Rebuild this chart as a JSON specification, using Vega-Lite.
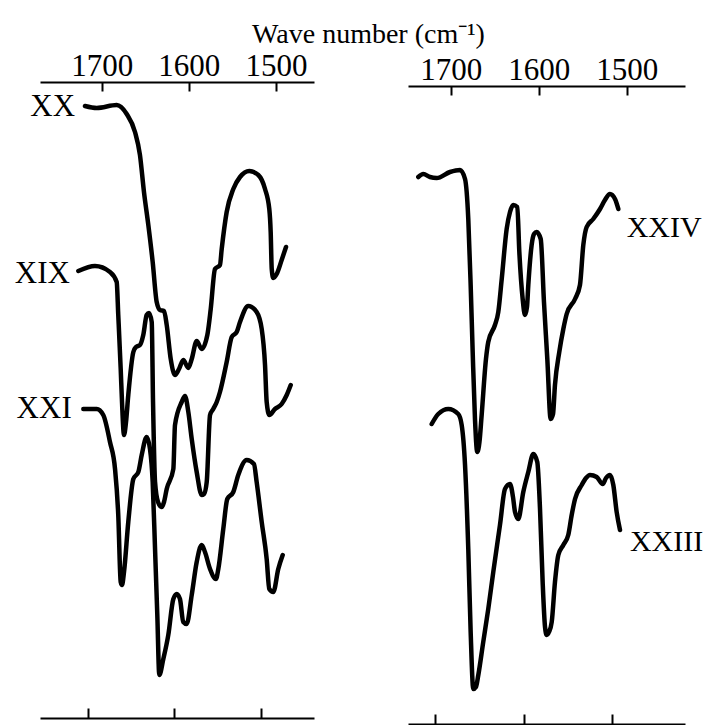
{
  "$schema": "https://vega.github.io/schema/vega-lite/v6.json",
  "background": "white",
  "padding": {"left": 14, "top": 20, "right": 0, "bottom": 0},
  "autosize": {"type": "pad"},
  "bounds": "flush",
  "spacing": 94,
  "config": {"view": {"stroke": null}, "font": "Liberation Serif"},
  "datasets": {
    "left": [
      {"s":"XX","wn":1719.2,"t":612},{"s":"XX","wn":1705.7,"t":610},{"s":"XX","wn":1682.8,"t":613},{"s":"XX","wn":1671.3,"t":604},
      {"s":"XX","wn":1661.8,"t":586},{"s":"XX","wn":1656.1,"t":563},{"s":"XX","wn":1651.5,"t":526},{"s":"XX","wn":1646.5,"t":493},
      {"s":"XX","wn":1641.5,"t":456},{"s":"XX","wn":1636.9,"t":416},{"s":"XX","wn":1633.1,"t":408},{"s":"XX","wn":1628.5,"t":407},
      {"s":"XX","wn":1625.4,"t":393},{"s":"XX","wn":1620.8,"t":359},{"s":"XX","wn":1615.9,"t":343},{"s":"XX","wn":1611.3,"t":349},
      {"s":"XX","wn":1606.4,"t":358},{"s":"XX","wn":1600.6,"t":350},{"s":"XX","wn":1596.7,"t":359},{"s":"XX","wn":1591.0,"t":377},
      {"s":"XX","wn":1585.3,"t":369},{"s":"XX","wn":1578.8,"t":383},{"s":"XX","wn":1574.9,"t":409},{"s":"XX","wn":1570.0,"t":449},
      {"s":"XX","wn":1564.3,"t":453},{"s":"XX","wn":1562.3,"t":469},{"s":"XX","wn":1556.6,"t":506},{"s":"XX","wn":1549.0,"t":529},
      {"s":"XX","wn":1541.3,"t":541},{"s":"XX","wn":1530.6,"t":547},{"s":"XX","wn":1520.3,"t":543},{"s":"XX","wn":1512.6,"t":529},
      {"s":"XX","wn":1507.7,"t":509},{"s":"XX","wn":1506.1,"t":486},{"s":"XX","wn":1504.9,"t":449},{"s":"XX","wn":1503.1,"t":440},
      {"s":"XX","wn":1499.2,"t":444},{"s":"XX","wn":1493.5,"t":458},{"s":"XX","wn":1488.5,"t":471},

      {"s":"XIX","wn":1726.8,"t":447},{"s":"XIX","wn":1707.7,"t":452},{"s":"XIX","wn":1690.5,"t":446},{"s":"XIX","wn":1682.8,"t":436},
      {"s":"XIX","wn":1681.0,"t":403},{"s":"XIX","wn":1678.2,"t":349},{"s":"XIX","wn":1676.7,"t":316},{"s":"XIX","wn":1674.4,"t":283},
      {"s":"XIX","wn":1672.1,"t":296},{"s":"XIX","wn":1669.5,"t":323},{"s":"XIX","wn":1663.7,"t":366},{"s":"XIX","wn":1660.6,"t":371},
      {"s":"XIX","wn":1656.1,"t":373},{"s":"XIX","wn":1652.3,"t":383},{"s":"XIX","wn":1648.4,"t":403},{"s":"XIX","wn":1645.7,"t":405},
      {"s":"XIX","wn":1642.6,"t":396},{"s":"XIX","wn":1641.1,"t":316},{"s":"XIX","wn":1638.8,"t":236},{"s":"XIX","wn":1635.4,"t":216},
      {"s":"XIX","wn":1631.2,"t":211},{"s":"XIX","wn":1628.5,"t":216},{"s":"XIX","wn":1625.4,"t":229},{"s":"XIX","wn":1617.8,"t":249},
      {"s":"XIX","wn":1615.9,"t":293},{"s":"XIX","wn":1608.2,"t":316},{"s":"XIX","wn":1604.4,"t":322},{"s":"XIX","wn":1600.6,"t":306},
      {"s":"XIX","wn":1596.7,"t":279},{"s":"XIX","wn":1591.0,"t":246},{"s":"XIX","wn":1585.3,"t":223},{"s":"XIX","wn":1582.6,"t":224},
      {"s":"XIX","wn":1579.5,"t":236},{"s":"XIX","wn":1575.7,"t":303},{"s":"XIX","wn":1572.0,"t":309},{"s":"XIX","wn":1568.0,"t":316},
      {"s":"XIX","wn":1564.3,"t":326},{"s":"XIX","wn":1556.6,"t":356},{"s":"XIX","wn":1550.8,"t":381},{"s":"XIX","wn":1545.1,"t":386},
      {"s":"XIX","wn":1541.3,"t":396},{"s":"XIX","wn":1531.8,"t":412},{"s":"XIX","wn":1522.2,"t":406},{"s":"XIX","wn":1516.4,"t":389},
      {"s":"XIX","wn":1512.6,"t":353},{"s":"XIX","wn":1510.7,"t":316},{"s":"XIX","wn":1507.7,"t":303},{"s":"XIX","wn":1501.2,"t":309},
      {"s":"XIX","wn":1493.5,"t":314},{"s":"XIX","wn":1487.7,"t":323},{"s":"XIX","wn":1483.1,"t":333},

      {"s":"XXI","wn":1721.1,"t":309},{"s":"XXI","wn":1705.7,"t":309},{"s":"XXI","wn":1698.2,"t":303},{"s":"XXI","wn":1690.5,"t":276},
      {"s":"XXI","wn":1684.7,"t":249},{"s":"XXI","wn":1681.0,"t":203},{"s":"XXI","wn":1678.2,"t":136},{"s":"XXI","wn":1676.7,"t":133},
      {"s":"XXI","wn":1674.4,"t":146},{"s":"XXI","wn":1669.5,"t":196},{"s":"XXI","wn":1663.7,"t":239},{"s":"XXI","wn":1658.0,"t":246},
      {"s":"XXI","wn":1654.1,"t":263},{"s":"XXI","wn":1648.4,"t":281},{"s":"XXI","wn":1644.6,"t":269},{"s":"XXI","wn":1641.5,"t":236},
      {"s":"XXI","wn":1638.8,"t":169},{"s":"XXI","wn":1636.2,"t":103},{"s":"XXI","wn":1633.9,"t":43},{"s":"XXI","wn":1629.3,"t":59},
      {"s":"XXI","wn":1623.6,"t":83},{"s":"XXI","wn":1617.8,"t":119},{"s":"XXI","wn":1613.9,"t":124},{"s":"XXI","wn":1610.2,"t":119},
      {"s":"XXI","wn":1606.4,"t":96},{"s":"XXI","wn":1602.5,"t":94},{"s":"XXI","wn":1596.7,"t":123},{"s":"XXI","wn":1591.0,"t":156},
      {"s":"XXI","wn":1585.3,"t":173},{"s":"XXI","wn":1581.5,"t":166},{"s":"XXI","wn":1575.7,"t":149},{"s":"XXI","wn":1568.9,"t":139},
      {"s":"XXI","wn":1566.2,"t":149},{"s":"XXI","wn":1560.5,"t":189},{"s":"XXI","wn":1555.9,"t":219},{"s":"XXI","wn":1549.0,"t":226},
      {"s":"XXI","wn":1543.3,"t":243},{"s":"XXI","wn":1533.6,"t":258},{"s":"XXI","wn":1525.3,"t":254},{"s":"XXI","wn":1522.2,"t":236},
      {"s":"XXI","wn":1516.4,"t":196},{"s":"XXI","wn":1510.7,"t":159},{"s":"XXI","wn":1507.7,"t":129},{"s":"XXI","wn":1503.1,"t":126},
      {"s":"XXI","wn":1497.4,"t":149},{"s":"XXI","wn":1492.3,"t":163}
    ],
    "leftLabels": [
      {"s":"XX","wn":1730.6,"t":611},
      {"s":"XIX","wn":1736.4,"t":444},
      {"s":"XXI","wn":1734.4,"t":309}
    ],
    "right": [
      {"s":"XXIV","wn":1736.8,"t":547},{"s":"XXIV","wn":1731.1,"t":550},{"s":"XXIV","wn":1723.5,"t":547},{"s":"XXIV","wn":1715.9,"t":546},
      {"s":"XXIV","wn":1700.8,"t":552},{"s":"XXIV","wn":1689.4,"t":554},{"s":"XXIV","wn":1683.7,"t":545},{"s":"XXIV","wn":1680.0,"t":505},
      {"s":"XXIV","wn":1677.3,"t":439},{"s":"XXIV","wn":1675.0,"t":372},{"s":"XXIV","wn":1672.4,"t":305},{"s":"XXIV","wn":1669.8,"t":272},
      {"s":"XXIV","wn":1667.3,"t":282},{"s":"XXIV","wn":1664.8,"t":309},{"s":"XXIV","wn":1659.9,"t":365},{"s":"XXIV","wn":1657.3,"t":382},
      {"s":"XXIV","wn":1649.7,"t":399},{"s":"XXIV","wn":1645.9,"t":412},{"s":"XXIV","wn":1642.0,"t":445},{"s":"XXIV","wn":1636.4,"t":495},
      {"s":"XXIV","wn":1632.6,"t":512},{"s":"XXIV","wn":1628.9,"t":519},{"s":"XXIV","wn":1624.3,"t":517},{"s":"XXIV","wn":1622.0,"t":472},
      {"s":"XXIV","wn":1618.2,"t":425},{"s":"XXIV","wn":1615.6,"t":409},{"s":"XXIV","wn":1613.3,"t":417},{"s":"XXIV","wn":1611.8,"t":439},
      {"s":"XXIV","wn":1608.0,"t":479},{"s":"XXIV","wn":1605.3,"t":490},{"s":"XXIV","wn":1602.3,"t":492},{"s":"XXIV","wn":1597.7,"t":485},
      {"s":"XXIV","wn":1594.0,"t":422},{"s":"XXIV","wn":1590.2,"t":365},{"s":"XXIV","wn":1586.4,"t":305},{"s":"XXIV","wn":1583.7,"t":310},
      {"s":"XXIV","wn":1581.5,"t":339},{"s":"XXIV","wn":1576.6,"t":372},{"s":"XXIV","wn":1572.0,"t":395},{"s":"XXIV","wn":1568.2,"t":410},
      {"s":"XXIV","wn":1558.7,"t":425},{"s":"XXIV","wn":1553.1,"t":439},{"s":"XXIV","wn":1549.3,"t":479},{"s":"XXIV","wn":1545.5,"t":497},
      {"s":"XXIV","wn":1538.0,"t":505},{"s":"XXIV","wn":1530.3,"t":515},{"s":"XXIV","wn":1524.7,"t":524},{"s":"XXIV","wn":1519.0,"t":530},
      {"s":"XXIV","wn":1513.3,"t":525},{"s":"XXIV","wn":1509.5,"t":515},

      {"s":"XXIII","wn":1721.6,"t":300},{"s":"XXIII","wn":1714.1,"t":310},{"s":"XXIII","wn":1702.7,"t":315},{"s":"XXIII","wn":1691.4,"t":310},
      {"s":"XXIII","wn":1687.5,"t":299},{"s":"XXIII","wn":1683.7,"t":259},{"s":"XXIII","wn":1680.0,"t":175},{"s":"XXIII","wn":1677.3,"t":92},
      {"s":"XXIII","wn":1674.3,"t":35},{"s":"XXIII","wn":1671.3,"t":37},{"s":"XXIII","wn":1668.6,"t":49},{"s":"XXIII","wn":1663.0,"t":82},
      {"s":"XXIII","wn":1657.3,"t":115},{"s":"XXIII","wn":1651.6,"t":152},{"s":"XXIII","wn":1644.0,"t":199},{"s":"XXIII","wn":1638.3,"t":235},
      {"s":"XXIII","wn":1632.6,"t":240},{"s":"XXIII","wn":1629.2,"t":227},{"s":"XXIII","wn":1626.9,"t":212},{"s":"XXIII","wn":1623.2,"t":205},
      {"s":"XXIII","wn":1617.5,"t":232},{"s":"XXIII","wn":1611.8,"t":252},{"s":"XXIII","wn":1606.1,"t":270},{"s":"XXIII","wn":1601.6,"t":262},
      {"s":"XXIII","wn":1598.5,"t":215},{"s":"XXIII","wn":1595.5,"t":142},{"s":"XXIII","wn":1592.8,"t":97},{"s":"XXIII","wn":1590.9,"t":89},
      {"s":"XXIII","wn":1588.3,"t":92},{"s":"XXIII","wn":1585.2,"t":102},{"s":"XXIII","wn":1581.5,"t":142},{"s":"XXIII","wn":1577.7,"t":169},
      {"s":"XXIII","wn":1572.0,"t":179},{"s":"XXIII","wn":1566.4,"t":189},{"s":"XXIII","wn":1562.5,"t":209},{"s":"XXIII","wn":1558.7,"t":225},
      {"s":"XXIII","wn":1551.1,"t":239},{"s":"XXIII","wn":1546.2,"t":246},{"s":"XXIII","wn":1541.7,"t":249},{"s":"XXIII","wn":1534.1,"t":247},
      {"s":"XXIII","wn":1527.3,"t":240},{"s":"XXIII","wn":1523.5,"t":246},{"s":"XXIII","wn":1519.0,"t":249},{"s":"XXIII","wn":1515.2,"t":239},
      {"s":"XXIII","wn":1511.4,"t":212},{"s":"XXIII","wn":1507.6,"t":194}
    ],
    "rightLabels": [
      {"s":"XXIV","wn":1500.0,"t":496},
      {"s":"XXIII","wn":1496.3,"t":182}
    ],
    "bottomTick": [{"wn": 1700}]
  },
  "hconcat": [
    {
      "width": 274,
      "height": 636,
      "layer": [
        {
          "layer": [
            {
              "data": {"name": "left"},
              "mark": {"type": "line", "color": "black", "strokeWidth": 4.5, "interpolate": "monotone", "strokeCap": "round", "strokeJoin": "round"},
              "encoding": {
                "x": {"field": "wn", "type": "quantitative",
                  "scale": {"domain": [1770.8, 1456.4], "nice": false, "zero": false},
                  "axis": {"orient": "top", "values": [1700, 1600, 1500], "format": "d", "grid": false,
                    "tickSize": -9, "tickWidth": 2, "tickColor": "black", "domainColor": "black", "domainWidth": 2,
                    "labelFont": "Liberation Serif", "labelFontSize": 31, "labelColor": "black", "labelPadding": 9,
                    "labelFlush": false, "labelOverlap": false,
                    "title": "Wave number (cm⁻¹)", "titleFont": "Liberation Serif", "titleFontSize": 28,
                    "titleFontWeight": "normal", "titleColor": "black", "titleX": 328, "titleY": -40,
                    "titleBaseline": "alphabetic", "titleAlign": "center"}},
                "y": {"field": "t", "type": "quantitative", "scale": {"domain": [0, 636], "nice": false, "zero": false}, "axis": null},
                "detail": {"field": "s"}
              }
            },
            {
              "data": {"name": "leftLabels"},
              "mark": {"type": "text", "align": "right", "baseline": "middle", "fontSize": 31, "font": "Liberation Serif", "color": "black"},
              "encoding": {
                "x": {"field": "wn", "type": "quantitative"},
                "y": {"field": "t", "type": "quantitative"},
                "text": {"field": "s"}
              }
            }
          ]
        },
        {
          "data": {"name": "bottomTick"},
          "mark": {"type": "point", "opacity": 0},
          "encoding": {
            "x": {"field": "wn", "type": "quantitative",
              "scale": {"domain": [1755, 1438.8], "nice": false, "zero": false},
              "axis": {"orient": "bottom", "values": [1700, 1600, 1500], "labels": false, "grid": false, "title": null,
                "tickSize": -10, "tickWidth": 2, "tickColor": "black", "domainColor": "black", "domainWidth": 2}}
          }
        }
      ],
      "resolve": {"scale": {"x": "independent"}, "axis": {"x": "independent"}}
    },
    {
      "width": 277,
      "height": 642,
      "layer": [
        {
          "layer": [
            {
              "data": {"name": "right"},
              "mark": {"type": "line", "color": "black", "strokeWidth": 4.5, "interpolate": "monotone", "strokeCap": "round", "strokeJoin": "round"},
              "encoding": {
                "x": {"field": "wn", "type": "quantitative",
                  "scale": {"domain": [1748.5, 1433.75], "nice": false, "zero": false},
                  "axis": {"orient": "top", "offset": -4, "values": [1700, 1600, 1500], "format": "d", "grid": false,
                    "tickSize": -9, "tickWidth": 2, "tickColor": "black", "domainColor": "black", "domainWidth": 2,
                    "labelFont": "Liberation Serif", "labelFontSize": 31, "labelColor": "black", "labelPadding": 9,
                    "labelFlush": false, "labelOverlap": false, "title": null}},
                "y": {"field": "t", "type": "quantitative", "scale": {"domain": [0, 642], "nice": false, "zero": false}, "axis": null},
                "detail": {"field": "s"}
              }
            },
            {
              "data": {"name": "rightLabels"},
              "mark": {"type": "text", "align": "left", "baseline": "middle", "fontSize": 30, "font": "Liberation Serif", "color": "black"},
              "encoding": {
                "x": {"field": "wn", "type": "quantitative"},
                "y": {"field": "t", "type": "quantitative"},
                "text": {"field": "s"}
              }
            }
          ]
        },
        {
          "data": {"name": "bottomTick"},
          "mark": {"type": "point", "opacity": 0},
          "encoding": {
            "x": {"field": "wn", "type": "quantitative",
              "scale": {"domain": [1730.9, 1417.4], "nice": false, "zero": false},
              "axis": {"orient": "bottom", "values": [1700, 1600, 1500], "labels": false, "grid": false, "title": null,
                "tickSize": -10, "tickWidth": 2, "tickColor": "black", "domainColor": "black", "domainWidth": 2}}
          }
        }
      ],
      "resolve": {"scale": {"x": "independent"}, "axis": {"x": "independent"}}
    }
  ]
}
